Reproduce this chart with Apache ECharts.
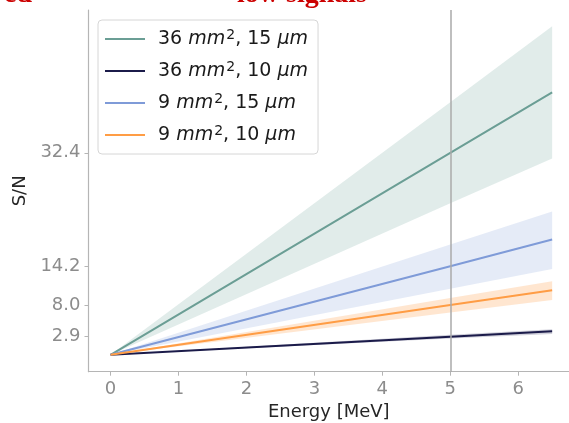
<!DOCTYPE html>
<html>
<head>
<meta charset="utf-8">
<script src="https://cdn.jsdelivr.net/npm/echarts@6/dist/echarts.min.js"></script>
<style>html,body{margin:0;padding:0;background:#fff}#c{width:569px;height:423px}</style>
</head>
<body>
<div id="c"></div>
<script>
const energy = [0, 5, 6.5];
const names = ['36 mm², 15 µm', '36 mm², 10 µm', '9 mm², 15 µm', '9 mm², 10 µm'];
const colors = ['#6b9e95', '#1b1b4a', '#7f9bd8', '#ff9d45'];
const bandColors = ['rgba(107,158,149,0.2)', 'rgba(27,27,74,0.2)', 'rgba(127,155,216,0.2)', 'rgba(255,157,69,0.25)'];
const sn36_15 = [0, 32.4, 42.1];
const sn36_15_lo = [0, 24.3, 31.5];
const sn36_15_hi = [0, 40.5, 52.7];
const sn36_10 = [0, 2.9, 3.77];
const sn36_10_lo = [0, 2.6, 3.35];
const sn36_10_hi = [0, 3.2, 4.1];
const sn9_15 = [0, 14.2, 18.5];
const sn9_15_lo = [0, 10.6, 13.75];
const sn9_15_hi = [0, 17.7, 23.0];
const sn9_10 = [0, 8.0, 10.35];
const sn9_10_lo = [0, 6.8, 8.8];
const sn9_10_hi = [0, 9.1, 11.8];
const xTicks = [0, 1, 2, 3, 4, 5, 6];
const yTicks = [2.9, 8.0, 14.2, 32.4];
const markerE = 5;

const mids = [sn36_15, sn36_10, sn9_15, sn9_10];
const los = [sn36_15_lo, sn36_10_lo, sn9_15_lo, sn9_10_lo];
const his = [sn36_15_hi, sn36_10_hi, sn9_15_hi, sn9_10_hi];

const series = [];
for (let i = 0; i < 4; i++) {
  const lo = los[i], hi = his[i], fill = bandColors[i];
  series.push({
    type: 'custom', silent: true, z: 1,
    data: energy.map((e, j) => [e, lo[j], hi[j]]),
    encode: { x: 0, y: [1, 2] },
    renderItem: function (params, api) {
      if (params.dataIndex !== 0) return null;
      const pts = [];
      for (let j = 0; j < energy.length; j++) pts.push(api.coord([energy[j], hi[j]]));
      for (let j = energy.length - 1; j >= 0; j--) pts.push(api.coord([energy[j], lo[j]]));
      return { type: 'polygon', shape: { points: pts }, style: { fill: fill, stroke: null } };
    }
  });
}
for (let i = 0; i < 4; i++) {
  const s = {
    type: 'line', name: names[i], symbol: 'none',
    data: energy.map((e, j) => [e, mids[i][j]]),
    lineStyle: { color: colors[i], width: 2 }, itemStyle: { color: colors[i] }, z: 3
  };
  if (i === 0) {
    s.markLine = { silent: true, symbol: 'none', label: { show: false },
      lineStyle: { color: '#aaaaaa', width: 1.5, type: 'solid' },
      data: [{ xAxis: markerE }] };
  }
  series.push(s);
}

const chart = echarts.init(document.getElementById('c'), null, { renderer: 'canvas' });
const fmtLegend = n => n.replace(/mm²/g, '{i|mm}{s|2}').replace(/µm/g, '{i|µm}');
chart.setOption({
  animation: false,
  grid: { left: 88.5, right: 0, top: 10, bottom: 51.3, containLabel: false, outerBoundsMode: 'none' },
  xAxis: {
    type: 'value', min: -0.325, max: 6.748,
    name: 'Energy [MeV]', nameLocation: 'middle', nameGap: 30,
    nameTextStyle: { fontFamily: 'DejaVu Sans', fontSize: 18, color: '#262626' },
    axisLine: { show: true, onZero: false, lineStyle: { color: '#b5b5b5', width: 1.2 } },
    axisTick: { show: true, length: 4, customValues: xTicks, lineStyle: { color: '#b5b5b5' } },
    axisLabel: { customValues: xTicks, margin: 9, fontFamily: 'DejaVu Sans', fontSize: 18, color: '#8c8c8c' },
    splitLine: { show: false }
  },
  yAxis: {
    type: 'value', min: -2.71, max: 55.3,
    name: 'S/N', nameLocation: 'middle', nameGap: 58,
    nameTextStyle: { fontFamily: 'DejaVu Sans', fontSize: 18, color: '#262626' },
    axisLine: { show: true, onZero: false, lineStyle: { color: '#b5b5b5', width: 1.2 } },
    axisTick: { show: true, length: 4, customValues: yTicks, lineStyle: { color: '#b5b5b5' } },
    axisLabel: { customValues: yTicks, margin: 8, fontFamily: 'DejaVu Sans', fontSize: 18, color: '#8c8c8c',
      formatter: v => v.toFixed(1) },
    splitLine: { show: false }
  },
  legend: {
    data: names, orient: 'vertical', left: 98, top: 20,
    padding: [8, 10, 8, 7], itemGap: 10, itemWidth: 40, itemHeight: 2, icon: 'rect',
    backgroundColor: '#ffffff', borderColor: '#d6d6d6', borderWidth: 1, borderRadius: 4,
    formatter: fmtLegend,
    textStyle: { fontFamily: 'DejaVu Sans', fontSize: 19, color: '#1a1a1a', padding: [0, 0, 0, 8], lineHeight: 22,
      rich: {
        i: { fontFamily: 'DejaVu Sans', fontStyle: 'italic', fontSize: 19, color: '#1a1a1a', lineHeight: 22 },
        s: { fontFamily: 'DejaVu Sans', fontSize: 14, color: '#1a1a1a', verticalAlign: 'top', lineHeight: 22, padding: [0, 0, 6, 1] }
      } }
  },
  graphic: [
    { type: 'text', x: 32, y: 9, style: { text: 'ed', align: 'right', verticalAlign: 'bottom',
      font: 'bold 28px "Liberation Serif"', fill: '#cc0000' } },
    { type: 'text', x: 237, y: 9, style: { text: 'low signals', align: 'left', verticalAlign: 'bottom',
      font: 'bold 28px "Liberation Serif"', fill: '#cc0000' } }
  ],
  series: series
});
</script>
</body>
</html>
